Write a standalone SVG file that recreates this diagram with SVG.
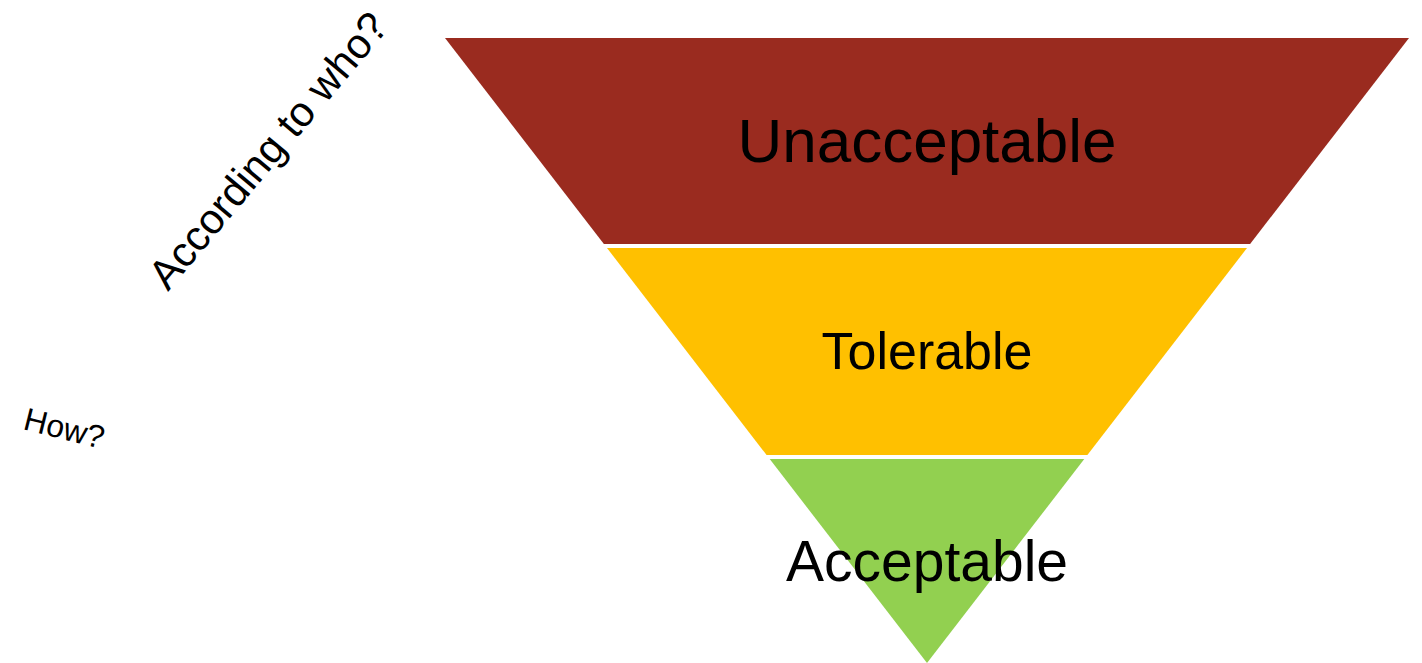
<svg xmlns="http://www.w3.org/2000/svg" width="1422" height="663" viewBox="0 0 1422 663">
<style>
.lbl{font-family:"Liberation Sans",Arial,sans-serif;fill:#000;}
.band{stroke:none;}
</style>
<rect width="1422" height="663" fill="#fff"/>
<g id="unacceptable">
<polygon class="band" fill="#9A2B1F" points="445,38 1409,38 1250.1,244 603.9,244"/>
<text class="lbl" x="927" y="162" font-size="62" text-anchor="middle">Unacceptable</text>
</g>
<g id="tolerable">
<polygon class="band" fill="#FFC000" points="607,248 1247,248 1087.4,455 766.6,455"/>
<text class="lbl" x="927" y="369" font-size="52" text-anchor="middle">Tolerable</text>
</g>
<g id="acceptable">
<polygon class="band" fill="#92D050" points="769.7,459 1084.3,459 927,663"/>
<text class="lbl" x="927" y="581" font-size="57" text-anchor="middle">Acceptable</text>
</g>
<g id="connectors"></g>
<g id="according">
<text class="lbl" x="0" y="0" font-size="42" transform="translate(168,292) rotate(-50)">According to who?</text>
</g>
<g id="how">
<text class="lbl" x="0" y="0" font-size="32" transform="translate(22,429) rotate(14)">How?</text>
</g>
</svg>
